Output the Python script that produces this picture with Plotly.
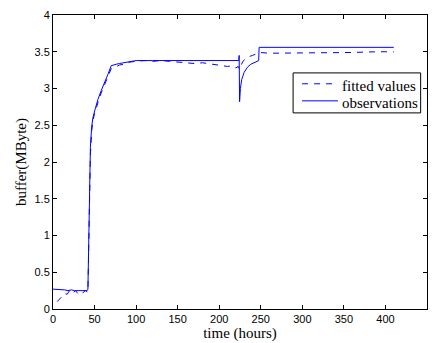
import plotly.graph_objects as go

# Observed buffer occupancy (MByte) over time (hours)
obs_t = [0, 3, 6, 10, 14, 18, 22, 26, 30, 34, 38, 41, 42, 43, 44, 45, 46.5, 48, 50.5, 54, 58,
         62, 66, 70, 72, 76, 80, 85, 90, 95, 100, 120, 140, 160, 180, 200, 215, 222, 223.5,
         224, 224.5, 225.5, 227, 230, 234, 238, 242, 246, 247.5, 248, 260, 300, 350, 410]
obs_y = [0.27, 0.27, 0.26, 0.27, 0.26, 0.25, 0.26, 0.25, 0.25, 0.24, 0.25, 0.25, 0.27, 1.1, 1.85, 2.2, 2.48, 2.6, 2.71, 2.85, 2.97,
         3.07, 3.19, 3.31, 3.32, 3.33, 3.34, 3.35, 3.36, 3.38, 3.38, 3.38, 3.38, 3.38, 3.38, 3.38, 3.38, 3.38, 3.38,
         3.45, 2.82, 3.0, 3.12, 3.22, 3.29, 3.33, 3.35, 3.37, 3.38, 3.56, 3.56, 3.56, 3.56, 3.56]

# Model output (fitted values)
fit_t = [5, 8, 11, 14, 17, 20.5, 24, 27, 30, 33, 36, 39, 42, 43, 44, 45, 46.5, 48, 50, 52, 55,
         58, 62, 66, 70, 75, 80, 86, 93, 100, 110, 120, 130, 140, 150, 160, 170, 180, 190, 200,
         210, 216, 220, 223, 224.5, 226, 228, 231, 235, 240, 245, 249, 260, 280, 300, 330, 360, 390, 410]
fit_y = [0.10, 0.14, 0.17, 0.21, 0.20, 0.26, 0.22, 0.25, 0.21, 0.24, 0.22, 0.25, 0.23, 1.0, 1.75, 2.1, 2.42, 2.56, 2.66, 2.74, 2.84,
         2.94, 3.05, 3.16, 3.27, 3.29, 3.32, 3.33, 3.36, 3.37, 3.38, 3.37, 3.38, 3.37, 3.36, 3.36, 3.34, 3.35, 3.33, 3.32,
         3.30, 3.31, 3.28, 3.30, 3.26, 3.30, 3.36, 3.40, 3.43, 3.45, 3.47, 3.49, 3.48, 3.48, 3.49, 3.48, 3.49, 3.50, 3.50]

x_ticks = [0, 50, 100, 150, 200, 250, 300, 350, 400, 450]
y_ticks = [0, 0.5, 1, 1.5, 2, 2.5, 3, 3.5, 4]

series_names = ["fitted values", "observations"]
series_dash = ["6px,6px", "solid"]
LINE_COLOR = "#0000FF"
SERIF = "Liberation Serif, Times New Roman, serif"
SANS = "Liberation Sans, Arial, sans-serif"

fig = go.Figure()
fig.add_trace(go.Scatter(x=fit_t, y=fit_y, mode="lines", name=series_names[0],
                         line=dict(color=LINE_COLOR, width=1, dash=series_dash[0])))
fig.add_trace(go.Scatter(x=obs_t, y=obs_y, mode="lines", name=series_names[1],
                         line=dict(color=LINE_COLOR, width=1, dash=series_dash[1])))

axis_common = dict(showline=True, linecolor="black", linewidth=1, mirror="ticks",
                   ticks="inside", ticklen=4, tickcolor="black", showgrid=False, zeroline=False,
                   automargin=False,
                   tickfont=dict(family=SANS, size=11, color="black"))

fig.update_xaxes(range=[0, 450], tickvals=x_ticks, ticktext=[str(v) for v in x_ticks],
                 title=dict(text="time (hours)", standoff=2,
                            font=dict(family=SERIF, size=15, color="black")),
                 **axis_common)
fig.update_yaxes(range=[0, 4], tickvals=y_ticks, ticktext=[f"{v:g}" for v in y_ticks],
                 title=dict(text="buffer(MByte)", standoff=4,
                            font=dict(family=SERIF, size=15, color="black")),
                 **axis_common)

# Boxed legend in the upper right of the axes (paper coordinates)
box_x0, box_x1, box_y0, box_y1 = 0.642, 0.983, 0.667, 0.803
swatch_x0, swatch_x1, text_x = 0.666, 0.762, 0.767
row_y = [0.766, 0.708]
shapes = [dict(type="rect", xref="paper", yref="paper", x0=box_x0, x1=box_x1, y0=box_y0, y1=box_y1,
               line=dict(color="black", width=1), fillcolor="white", layer="above")]
annotations = []
for name, dash, y in zip(series_names, series_dash, row_y):
    shapes.append(dict(type="line", xref="paper", yref="paper", x0=swatch_x0, x1=swatch_x1, y0=y, y1=y,
                       line=dict(color=LINE_COLOR, width=1, dash=dash), layer="above"))
    annotations.append(dict(xref="paper", yref="paper", x=text_x, y=y - 0.006, text=name,
                            showarrow=False, xanchor="left", yanchor="middle",
                            font=dict(family=SERIF, size=15, color="black")))

fig.update_layout(
    width=436, height=343,
    margin=dict(l=53, r=9, t=15, b=34),
    paper_bgcolor="white", plot_bgcolor="white",
    showlegend=False,
    shapes=shapes,
    annotations=annotations,
)

fig.write_html("out.html")
